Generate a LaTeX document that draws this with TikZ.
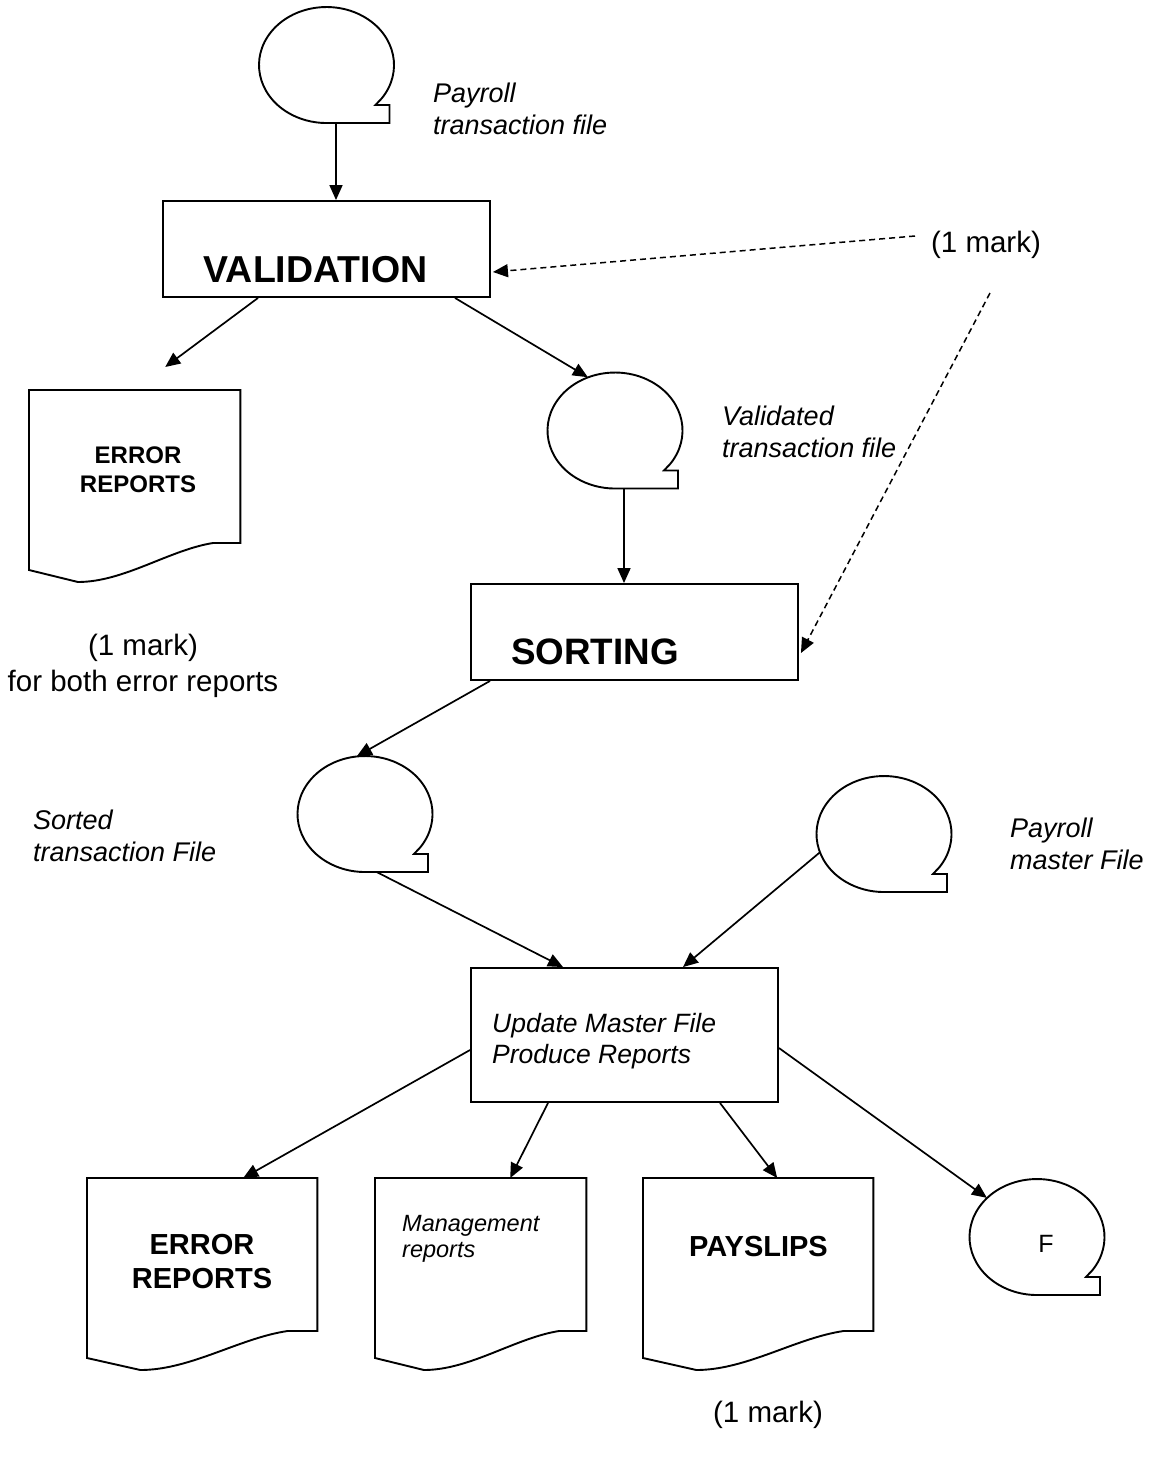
\documentclass[tikz,border=0pt]{standalone}
\usepackage{fontspec}
\setmainfont{Liberation Sans}
\usetikzlibrary{arrows.meta,calc,shapes.geometric}
\newcommand\tapeoutline[1]{%
  \draw[outl] ($(#1)+(55.3,33.3)$) arc[start angle=35, end angle=-270, x radius=67.5, y radius=58]
    -- ++(63,0) -- ++(0,-18) -- ($(#1)+(49,40)$) -- cycle;}
\newcommand\docoutline[2]{%
  \draw[outl] (#1.north west) -- (#1.north east) -- ++(0,153)
    -- ($(#1.north west)+({0.872*#2},153)$)
    .. controls ($(#1.north west)+({0.664*#2},160)$) and ($(#1.north west)+({0.45*#2},192)$)
    .. ($(#1.north west)+({0.232*#2},192)$)
    -- ($(#1.north west)+(0,180)$) -- cycle;}
\begin{document}
\begin{tikzpicture}[x=1pt,y=-1pt,
  outl/.style={line width=1.9pt},
  arr/.style={line width=1.7pt, -{Triangle[length=15pt,width=13pt]}},
  darr/.style={line width=1.5pt, dash pattern=on 6pt off 4pt, -{Triangle[length=15pt,width=13pt]}},
  procbox/.style={draw, line width=1.9pt, inner sep=0, minimum width=327pt, minimum height=96pt},
  tapenode/.style={ellipse, inner sep=0, minimum width=135pt, minimum height=116pt},
  docnode/.style={rectangle, inner sep=0, minimum height=192pt, anchor=north west},
  titletxt/.style={font=\fontsize{37.5}{40}\selectfont\bfseries, inner sep=0},
  itlab/.style={font=\fontsize{27}{32}\selectfont\itshape, align=left, inner sep=0, anchor=west},
  notetxt/.style={font=\fontsize{29.5}{36}\selectfont, align=center, inner sep=0},
  docbig/.style={font=\fontsize{29}{34}\selectfont\bfseries, align=center, inner sep=0},
  docsmall/.style={font=\fontsize{24}{29}\selectfont\bfseries, align=center, inner sep=0}
]
\useasboundingbox (0,0) rectangle (1155,1457);
\fill[white] (0,0) rectangle (1155,1457);

% tapes
\node[tapenode] (t1) at (326.5,65) {};
\node[tapenode] (t2) at (615,430.5) {};
\node[tapenode] (t3) at (365,814) {};
\node[tapenode] (t4) at (884,834) {};
\node[tapenode] (tF) at (1037,1237) {};
\tapeoutline{t1}
\tapeoutline{t2}
\tapeoutline{t3}
\tapeoutline{t4}
\tapeoutline{tF}
\node[font=\fontsize{25}{30}\selectfont, inner sep=0] (tFt) at (1046,1244) {F};

% process boxes
\node[procbox] (val) at (326.5,249) {};
\node[titletxt, anchor=base] (valt) at (315.5,282) {VALIDATION};
\node[procbox] (sort) at (634.5,632) {};
\node[titletxt, font=\fontsize{36.8}{40}\selectfont\bfseries, anchor=base] (sortt) at (595,664) {SORTING};
\node[draw, line width=1.9pt, inner sep=0, minimum width=307pt, minimum height=134pt] (upd) at (624.5,1035) {};
\node[itlab, font=\fontsize{26.5}{31}\selectfont\itshape] (updt) at (492,1041) {Update Master File\\Produce Reports};

% documents
\node[docnode, minimum width=211pt] (doc1) at (29,390) {};
\node[docnode, minimum width=230pt] (docA) at (87,1178) {};
\node[docnode, minimum width=211pt] (docB) at (375,1178) {};
\node[docnode, minimum width=230pt] (docC) at (643,1178) {};
\docoutline{doc1}{211}
\docoutline{docA}{230}
\docoutline{docB}{211}
\docoutline{docC}{230}
\node[docsmall] (doc1t) at (138,470) {ERROR\\REPORTS};
\node[docbig] (docAt) at (202,1262) {ERROR\\REPORTS};
\node[docbig] (docCt) at (758.5,1246.5) {PAYSLIPS};
\node[itlab, font=\fontsize{23.5}{26}\selectfont\itshape] (docBt) at (402,1239) {Management\\reports};

% labels
\node[itlab] (l1) at (433,109) {Payroll\\transaction file};
\node[itlab] (l2) at (722,432) {Validated\\transaction file};
\node[itlab] (l3) at (33,836) {Sorted\\transaction File};
\node[itlab] (l4) at (1010,844) {Payroll\\master File};
\node[notetxt] (m1) at (986,245) {(1 mark)};
\node[notetxt] (m2) at (143,666) {(1 mark)\\for both error reports};
\node[notetxt] (m3) at (768,1415) {(1 mark)};

% connectors
\draw[arr] ([xshift=9.5pt]t1.south) -- ([xshift=9.5pt]val.north);
\draw[arr] ([xshift=-68.5pt]val.south) -- ([xshift=30.5pt,yshift=23pt]doc1.north);
\draw[arr] ([xshift=128.5pt]val.south) -- (t2.117);
\draw[arr] ([xshift=9pt]t2.south) -- ([xshift=9pt]t2.south |- sort.north);
\coordinate (d1s) at (915,236);
\coordinate (d2s) at (990,293);
\draw[darr] (d1s) -- ([xshift=2pt,yshift=-23pt]val.east);
\draw[darr] (d2s) -- ([xshift=2pt,yshift=-21pt]sort.east);
\draw[arr] ([xshift=-144.5pt]sort.south) -- (t3.98);
\draw[arr] ([xshift=12pt]t3.south) -- ([xshift=-61.5pt]upd.north);
\draw[arr] (t4.196) -- ([xshift=58.5pt]upd.north);
\draw[arr] ([yshift=-15pt]upd.west) -- ([xshift=41pt]docA.north);
\draw[arr] ([xshift=-76.5pt]upd.south) -- ([xshift=29.5pt]docB.north);
\draw[arr] ([xshift=95.5pt]upd.south) -- ([xshift=19pt]docC.north);
\draw[arr] ([yshift=-13pt]upd.east) -- (tF.142);
\end{tikzpicture}
\end{document}
